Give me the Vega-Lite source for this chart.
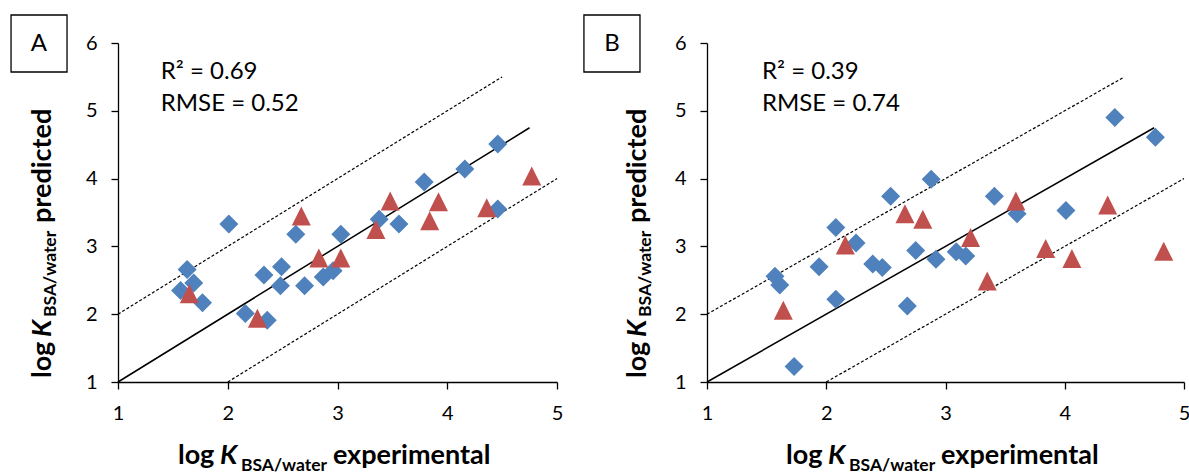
{
  "$schema": "https://vega.github.io/schema/vega-lite/v6.json",
  "background": "white",
  "padding": {"left": 10, "top": 14, "right": 0, "bottom": 0},
  "bounds": "flush",
  "spacing": 150,
  "config": {
    "view": {"stroke": null},
    "font": "Lato",
    "axis": {"title": null, "grid": false, "format": "d", "tickSize": 7, "labelPadding": 14, "labelFontSize": 20, "labelFont": "Lato", "labelColor": "black", "domainColor": "black", "tickColor": "black", "domainWidth": 1.3, "tickWidth": 1.3, "labelFlush": false, "labelOverlap": false}
  },
  "datasets": {
    "ptsA": [
      {"exp": 1.57, "pred": 2.35, "type": "diamond"}, {"exp": 1.63, "pred": 2.66, "type": "diamond"}, {"exp": 1.69, "pred": 2.46, "type": "diamond"}, {"exp": 1.77, "pred": 2.17, "type": "diamond"}, {"exp": 2.01, "pred": 3.33, "type": "diamond"}, {"exp": 2.16, "pred": 2.01, "type": "diamond"}, {"exp": 2.33, "pred": 2.58, "type": "diamond"}, {"exp": 2.36, "pred": 1.91, "type": "diamond"}, {"exp": 2.49, "pred": 2.70, "type": "diamond"}, {"exp": 2.48, "pred": 2.42, "type": "diamond"}, {"exp": 2.62, "pred": 3.18, "type": "diamond"}, {"exp": 2.70, "pred": 2.42, "type": "diamond"}, {"exp": 2.87, "pred": 2.55, "type": "diamond"}, {"exp": 2.96, "pred": 2.64, "type": "diamond"}, {"exp": 3.03, "pred": 3.18, "type": "diamond"}, {"exp": 3.38, "pred": 3.40, "type": "diamond"}, {"exp": 3.56, "pred": 3.33, "type": "diamond"}, {"exp": 3.79, "pred": 3.95, "type": "diamond"}, {"exp": 4.16, "pred": 4.14, "type": "diamond"}, {"exp": 4.46, "pred": 4.51, "type": "diamond"}, {"exp": 4.46, "pred": 3.55, "type": "diamond"},
      {"exp": 1.65, "pred": 2.30, "type": "triangle"}, {"exp": 2.27, "pred": 1.94, "type": "triangle"}, {"exp": 2.67, "pred": 3.45, "type": "triangle"}, {"exp": 2.83, "pred": 2.83, "type": "triangle"}, {"exp": 3.03, "pred": 2.83, "type": "triangle"}, {"exp": 3.35, "pred": 3.25, "type": "triangle"}, {"exp": 3.48, "pred": 3.67, "type": "triangle"}, {"exp": 3.84, "pred": 3.38, "type": "triangle"}, {"exp": 3.92, "pred": 3.66, "type": "triangle"}, {"exp": 4.36, "pred": 3.57, "type": "triangle"}, {"exp": 4.77, "pred": 4.04, "type": "triangle"}
    ],
    "ptsB": [
      {"exp": 1.57, "pred": 2.56, "type": "diamond"}, {"exp": 1.61, "pred": 2.43, "type": "diamond"}, {"exp": 1.73, "pred": 1.23, "type": "diamond"}, {"exp": 1.94, "pred": 2.70, "type": "diamond"}, {"exp": 2.08, "pred": 3.28, "type": "diamond"}, {"exp": 2.08, "pred": 2.22, "type": "diamond"}, {"exp": 2.25, "pred": 3.05, "type": "diamond"}, {"exp": 2.39, "pred": 2.74, "type": "diamond"}, {"exp": 2.47, "pred": 2.69, "type": "diamond"}, {"exp": 2.54, "pred": 3.74, "type": "diamond"}, {"exp": 2.68, "pred": 2.12, "type": "diamond"}, {"exp": 2.75, "pred": 2.94, "type": "diamond"}, {"exp": 2.88, "pred": 3.99, "type": "diamond"}, {"exp": 2.92, "pred": 2.81, "type": "diamond"}, {"exp": 3.09, "pred": 2.92, "type": "diamond"}, {"exp": 3.17, "pred": 2.86, "type": "diamond"}, {"exp": 3.41, "pred": 3.74, "type": "diamond"}, {"exp": 3.60, "pred": 3.48, "type": "diamond"}, {"exp": 4.01, "pred": 3.53, "type": "diamond"}, {"exp": 4.42, "pred": 4.90, "type": "diamond"}, {"exp": 4.76, "pred": 4.61, "type": "diamond"},
      {"exp": 1.64, "pred": 2.06, "type": "triangle"}, {"exp": 2.16, "pred": 3.02, "type": "triangle"}, {"exp": 2.66, "pred": 3.48, "type": "triangle"}, {"exp": 2.81, "pred": 3.40, "type": "triangle"}, {"exp": 3.21, "pred": 3.13, "type": "triangle"}, {"exp": 3.35, "pred": 2.49, "type": "triangle"}, {"exp": 3.59, "pred": 3.67, "type": "triangle"}, {"exp": 3.84, "pred": 2.97, "type": "triangle"}, {"exp": 4.06, "pred": 2.82, "type": "triangle"}, {"exp": 4.36, "pred": 3.61, "type": "triangle"}, {"exp": 4.83, "pred": 2.93, "type": "triangle"}
    ],
    "dashed": [
      {"exp": 1, "pred": 2, "band": "upper"}, {"exp": 4.5, "pred": 5.5, "band": "upper"},
      {"exp": 2, "pred": 1, "band": "lower"}, {"exp": 5, "pred": 4, "band": "lower"}
    ],
    "identity": [
      {"exp": 1, "pred": 1}, {"exp": 4.75, "pred": 4.75}
    ]
  },
  "hconcat": [
    {
      "width": 439,
      "height": 339,
      "layer": [
        {
          "data": {"name": "dashed"},
          "mark": {"type": "line", "color": "black", "strokeWidth": 1.2, "strokeDash": [3, 2]},
          "encoding": {
            "x": {"field": "exp", "type": "quantitative", "scale": {"domain": [1, 5], "nice": false}, "axis": {"values": [1, 2, 3, 4, 5]}},
            "y": {"field": "pred", "type": "quantitative", "scale": {"domain": [1, 6], "nice": false}, "axis": {"values": [1, 2, 3, 4, 5, 6]}},
            "detail": {"field": "band"}
          }
        },
        {
          "data": {"name": "identity"},
          "mark": {"type": "line", "color": "black", "strokeWidth": 1.5},
          "encoding": {"x": {"field": "exp", "type": "quantitative"}, "y": {"field": "pred", "type": "quantitative"}}
        },
        {
          "data": {"name": "ptsA"},
          "mark": {"type": "point", "filled": true, "opacity": 1, "size": 361},
          "encoding": {
            "x": {"field": "exp", "type": "quantitative"},
            "y": {"field": "pred", "type": "quantitative"},
            "shape": {"field": "type", "type": "nominal", "scale": {"domain": ["diamond", "triangle"], "range": ["diamond", "M-1,1L0,-1L1,1Z"]}, "legend": null},
            "color": {"field": "type", "type": "nominal", "scale": {"domain": ["diamond", "triangle"], "range": ["#4F81BD", "#C0504D"]}, "legend": null}
          }
        },
        {
          "data": {"values": [{"box": "A"}]},
          "mark": {"type": "rect", "fill": "white", "stroke": "black", "strokeWidth": 1.3},
          "encoding": {"x": {"datum": 0.0255}, "x2": {"datum": 0.5355}, "y": {"datum": 6.413}, "y2": {"datum": 5.572}}
        },
        {
          "data": {"values": [{"t": "A"}]},
          "mark": {"type": "text", "fontSize": 24, "align": "center", "baseline": "middle", "color": "black"},
          "encoding": {"text": {"field": "t"}, "x": {"datum": 0.28}, "y": {"datum": 5.99}}
        },
        {
          "data": {"values": [{"t": "R² = 0.69"}]},
          "mark": {"type": "text", "fontSize": 24, "align": "left", "baseline": "alphabetic", "color": "black"},
          "encoding": {"text": {"field": "t"}, "x": {"datum": 1.39}, "y": {"datum": 5.47}}
        },
        {
          "data": {"values": [{"t": "RMSE = 0.52"}]},
          "mark": {"type": "text", "fontSize": 24, "align": "left", "baseline": "alphabetic", "color": "black"},
          "encoding": {"text": {"field": "t"}, "x": {"datum": 1.39}, "y": {"datum": 5.0}}
        },
        {
          "data": {"values": [{"t": "log"}]},
          "mark": {"type": "text", "fontSize": 27, "fontWeight": "bold", "align": "left", "baseline": "alphabetic", "color": "black"},
          "encoding": {"text": {"field": "t"}, "x": {"datum": 1.546}, "y": {"datum": -0.209}}
        },
        {
          "data": {"values": [{"t": "K"}]},
          "mark": {"type": "text", "fontSize": 27, "fontWeight": "bold", "fontStyle": "italic", "align": "left", "baseline": "alphabetic", "color": "black"},
          "encoding": {"text": {"field": "t"}, "x": {"datum": 1.929}, "y": {"datum": -0.209}}
        },
        {
          "data": {"values": [{"t": "BSA/water"}]},
          "mark": {"type": "text", "fontSize": 17.5, "fontWeight": "bold", "align": "left", "baseline": "alphabetic", "color": "black"},
          "encoding": {"text": {"field": "t"}, "x": {"datum": 2.12}, "y": {"datum": -0.313}}
        },
        {
          "data": {"values": [{"t": "experimental"}]},
          "mark": {"type": "text", "fontSize": 27, "fontWeight": "bold", "align": "left", "baseline": "alphabetic", "color": "black"},
          "encoding": {"text": {"field": "t"}, "x": {"datum": 2.958}, "y": {"datum": -0.209}}
        },
        {
          "data": {"values": [{"t": "log"}]},
          "mark": {"type": "text", "fontSize": 27, "fontWeight": "bold", "align": "left", "baseline": "alphabetic", "angle": 270, "color": "black"},
          "encoding": {"text": {"field": "t"}, "x": {"datum": 0.39}, "y": {"datum": 1.059}}
        },
        {
          "data": {"values": [{"t": "K"}]},
          "mark": {"type": "text", "fontSize": 27, "fontWeight": "bold", "fontStyle": "italic", "align": "left", "baseline": "alphabetic", "angle": 270, "color": "black"},
          "encoding": {"text": {"field": "t"}, "x": {"datum": 0.39}, "y": {"datum": 1.664}}
        },
        {
          "data": {"values": [{"t": "BSA/water"}]},
          "mark": {"type": "text", "fontSize": 17.5, "fontWeight": "bold", "align": "left", "baseline": "alphabetic", "angle": 270, "color": "black"},
          "encoding": {"text": {"field": "t"}, "x": {"datum": 0.435}, "y": {"datum": 1.959}}
        },
        {
          "data": {"values": [{"t": "predicted"}]},
          "mark": {"type": "text", "fontSize": 27, "fontWeight": "bold", "align": "left", "baseline": "alphabetic", "angle": 270, "color": "black"},
          "encoding": {"text": {"field": "t"}, "x": {"datum": 0.39}, "y": {"datum": 3.345}}
        }
      ]
    },
    {
      "width": 477,
      "height": 339,
      "layer": [
        {
          "data": {"name": "dashed"},
          "mark": {"type": "line", "color": "black", "strokeWidth": 1.2, "strokeDash": [3, 2]},
          "encoding": {
            "x": {"field": "exp", "type": "quantitative", "scale": {"domain": [1, 5], "nice": false}, "axis": {"values": [1, 2, 3, 4, 5]}},
            "y": {"field": "pred", "type": "quantitative", "scale": {"domain": [1, 6], "nice": false}, "axis": {"values": [1, 2, 3, 4, 5, 6]}},
            "detail": {"field": "band"}
          }
        },
        {
          "data": {"name": "identity"},
          "mark": {"type": "line", "color": "black", "strokeWidth": 1.5},
          "encoding": {"x": {"field": "exp", "type": "quantitative"}, "y": {"field": "pred", "type": "quantitative"}}
        },
        {
          "data": {"name": "ptsB"},
          "mark": {"type": "point", "filled": true, "opacity": 1, "size": 361},
          "encoding": {
            "x": {"field": "exp", "type": "quantitative"},
            "y": {"field": "pred", "type": "quantitative"},
            "shape": {"field": "type", "type": "nominal", "scale": {"domain": ["diamond", "triangle"], "range": ["diamond", "M-1,1L0,-1L1,1Z"]}, "legend": null},
            "color": {"field": "type", "type": "nominal", "scale": {"domain": ["diamond", "triangle"], "range": ["#4F81BD", "#C0504D"]}, "legend": null}
          }
        },
        {
          "data": {"values": [{"box": "B"}]},
          "mark": {"type": "rect", "fill": "white", "stroke": "black", "strokeWidth": 1.3},
          "encoding": {"x": {"datum": -0.032}, "x2": {"datum": 0.438}, "y": {"datum": 6.413}, "y2": {"datum": 5.572}}
        },
        {
          "data": {"values": [{"t": "B"}]},
          "mark": {"type": "text", "fontSize": 24, "align": "center", "baseline": "middle", "color": "black"},
          "encoding": {"text": {"field": "t"}, "x": {"datum": 0.203}, "y": {"datum": 5.99}}
        },
        {
          "data": {"values": [{"t": "R² = 0.39"}]},
          "mark": {"type": "text", "fontSize": 24, "align": "left", "baseline": "alphabetic", "color": "black"},
          "encoding": {"text": {"field": "t"}, "x": {"datum": 1.461}, "y": {"datum": 5.47}}
        },
        {
          "data": {"values": [{"t": "RMSE = 0.74"}]},
          "mark": {"type": "text", "fontSize": 24, "align": "left", "baseline": "alphabetic", "color": "black"},
          "encoding": {"text": {"field": "t"}, "x": {"datum": 1.461}, "y": {"datum": 5.0}}
        },
        {
          "data": {"values": [{"t": "log"}]},
          "mark": {"type": "text", "fontSize": 27, "fontWeight": "bold", "align": "left", "baseline": "alphabetic", "color": "black"},
          "encoding": {"text": {"field": "t"}, "x": {"datum": 1.663}, "y": {"datum": -0.209}}
        },
        {
          "data": {"values": [{"t": "K"}]},
          "mark": {"type": "text", "fontSize": 27, "fontWeight": "bold", "fontStyle": "italic", "align": "left", "baseline": "alphabetic", "color": "black"},
          "encoding": {"text": {"field": "t"}, "x": {"datum": 2.015}, "y": {"datum": -0.209}}
        },
        {
          "data": {"values": [{"t": "BSA/water"}]},
          "mark": {"type": "text", "fontSize": 17.5, "fontWeight": "bold", "align": "left", "baseline": "alphabetic", "color": "black"},
          "encoding": {"text": {"field": "t"}, "x": {"datum": 2.191}, "y": {"datum": -0.313}}
        },
        {
          "data": {"values": [{"t": "experimental"}]},
          "mark": {"type": "text", "fontSize": 27, "fontWeight": "bold", "align": "left", "baseline": "alphabetic", "color": "black"},
          "encoding": {"text": {"field": "t"}, "x": {"datum": 2.963}, "y": {"datum": -0.209}}
        },
        {
          "data": {"values": [{"t": "log"}]},
          "mark": {"type": "text", "fontSize": 27, "fontWeight": "bold", "align": "left", "baseline": "alphabetic", "angle": 270, "color": "black"},
          "encoding": {"text": {"field": "t"}, "x": {"datum": 0.488}, "y": {"datum": 1.059}}
        },
        {
          "data": {"values": [{"t": "K"}]},
          "mark": {"type": "text", "fontSize": 27, "fontWeight": "bold", "fontStyle": "italic", "align": "left", "baseline": "alphabetic", "angle": 270, "color": "black"},
          "encoding": {"text": {"field": "t"}, "x": {"datum": 0.488}, "y": {"datum": 1.664}}
        },
        {
          "data": {"values": [{"t": "BSA/water"}]},
          "mark": {"type": "text", "fontSize": 17.5, "fontWeight": "bold", "align": "left", "baseline": "alphabetic", "angle": 270, "color": "black"},
          "encoding": {"text": {"field": "t"}, "x": {"datum": 0.53}, "y": {"datum": 1.959}}
        },
        {
          "data": {"values": [{"t": "predicted"}]},
          "mark": {"type": "text", "fontSize": 27, "fontWeight": "bold", "align": "left", "baseline": "alphabetic", "angle": 270, "color": "black"},
          "encoding": {"text": {"field": "t"}, "x": {"datum": 0.488}, "y": {"datum": 3.345}}
        }
      ]
    }
  ]
}
